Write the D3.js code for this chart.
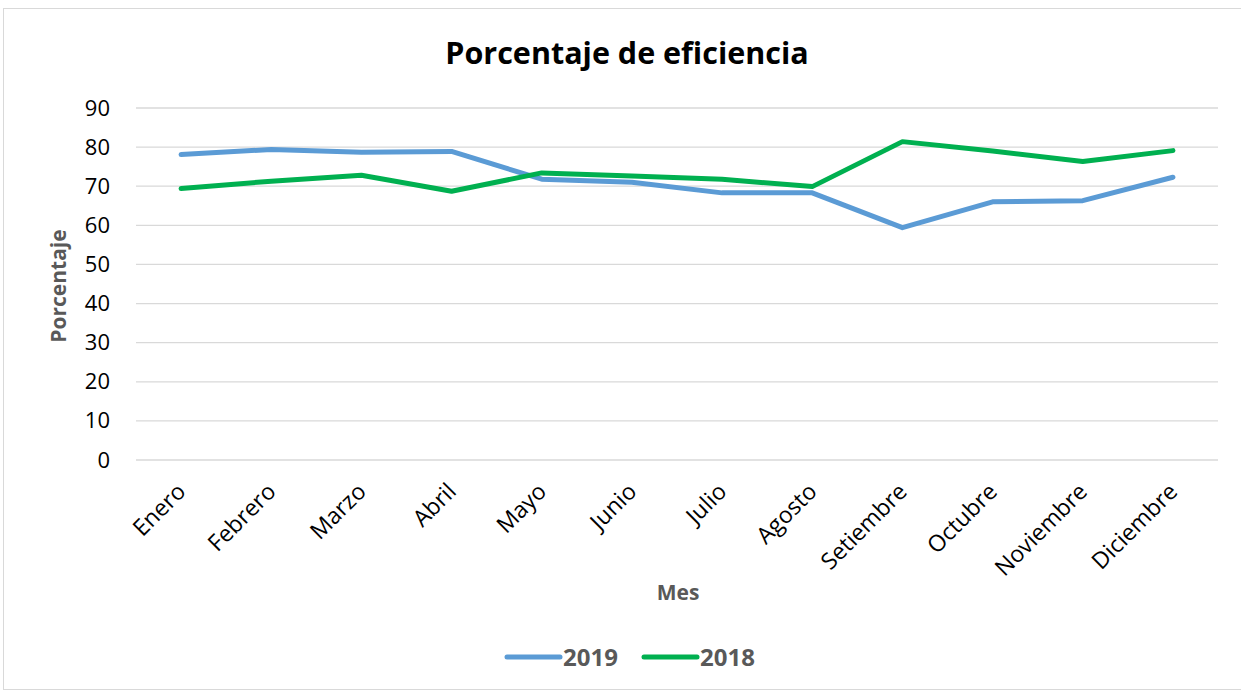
<!DOCTYPE html>
<html>
<head>
<meta charset="utf-8">
<script src="https://cdn.jsdelivr.net/npm/d3@7"></script>
<style>
  body { margin: 0; background: #fff; }
  text { font-family: "Open Sans", "DejaVu Sans", sans-serif; }
</style>
</head>
<body>
<svg id="chart" width="1241" height="694"></svg>
<script>
var months = ['Enero', 'Febrero', 'Marzo', 'Abril', 'Mayo', 'Junio', 'Julio',
              'Agosto', 'Setiembre', 'Octubre', 'Noviembre', 'Diciembre'];
var values2019 = [78.1, 79.4, 78.7, 78.9, 71.8, 71.0, 68.3, 68.3, 59.4, 66.0, 66.3, 72.3];
var values2018 = [69.4, 71.3, 72.8, 68.7, 73.4, 72.6, 71.8, 69.9, 81.4, 79.0, 76.3, 79.1];
var yTicks = [0, 10, 20, 30, 40, 50, 60, 70, 80, 90];

var series = [
    {name: '2019', values: values2019, color: '#5B9BD5'},
    {name: '2018', values: values2018, color: '#00B050'}
];

var svg = d3.select('#chart');

// outer frame like the spreadsheet chart area
svg.append('rect')
    .attr('x', 3.5).attr('y', 8.5)
    .attr('width', 1245).attr('height', 681)
    .attr('fill', '#fff')
    .attr('stroke', '#D9D9D9');

// plot area (note: "top" is taken by window.top, so prefix everything)
var plotLeft = 136, plotRight = 1218, plotTop = 108, plotBottom = 460;

var x = d3.scaleBand().domain(months).range([plotLeft, plotRight]);
var y = d3.scaleLinear().domain([0, 90]).range([plotBottom, plotTop]);

// gridlines
svg.append('g')
    .selectAll('line')
    .data(yTicks)
    .join('line')
    .attr('x1', plotLeft).attr('x2', plotRight)
    .attr('y1', function(d){ return y(d); })
    .attr('y2', function(d){ return y(d); })
    .attr('stroke', '#D9D9D9')
    .attr('stroke-width', 1.3);

// y axis labels
var yAxis = svg.append('g')
    .attr('transform', 'translate(' + plotLeft + ',0)')
    .call(d3.axisLeft(y).tickValues(yTicks).tickSize(0).tickPadding(26));
yAxis.select('.domain').remove();
yAxis.selectAll('text')
    .attr('font-size', 22)
    .attr('fill', '#000')
    .style('font-family', '"Open Sans", sans-serif');

// x axis labels, rotated
var xAxis = svg.append('g')
    .attr('transform', 'translate(0,' + plotBottom + ')')
    .call(d3.axisBottom(x).tickSize(0).tickPadding(0));
xAxis.select('.domain').remove();
xAxis.selectAll('text')
    .attr('font-size', 23)
    .attr('fill', '#000')
    .style('font-family', '"Open Sans", sans-serif')
    .attr('text-anchor', 'end')
    .attr('dy', 0)
    .attr('y', 0)
    .attr('transform', 'translate(6,33) rotate(-45)');

// lines
var line = d3.line()
    .x(function(d, i){ return x(months[i]) + x.bandwidth() / 2; })
    .y(function(d){ return y(d); });

svg.append('g')
    .selectAll('path')
    .data(series)
    .join('path')
    .attr('d', function(s){ return line(s.values); })
    .attr('fill', 'none')
    .attr('stroke', function(s){ return s.color; })
    .attr('stroke-width', 5)
    .attr('stroke-linejoin', 'round')
    .attr('stroke-linecap', 'round');

// title
svg.append('text')
    .attr('x', 627).attr('y', 64)
    .attr('text-anchor', 'middle')
    .attr('font-size', 30.5)
    .attr('font-weight', 'bold')
    .attr('fill', '#000')
    .text('Porcentaje de eficiencia');

// axis titles
svg.append('text')
    .attr('transform', 'translate(66,286) rotate(-90)')
    .attr('text-anchor', 'middle')
    .attr('font-size', 21)
    .attr('font-weight', 'bold')
    .attr('fill', '#595959')
    .text('Porcentaje');

svg.append('text')
    .attr('x', 678).attr('y', 600)
    .attr('text-anchor', 'middle')
    .attr('font-size', 21)
    .attr('font-weight', 'bold')
    .attr('fill', '#595959')
    .text('Mes');

// legend
var legend = svg.append('g')
    .selectAll('g')
    .data(series)
    .join('g')
    .attr('transform', function(s, i){ return 'translate(' + (507 + i * 137) + ',657)'; });
legend.append('line')
    .attr('x1', 0).attr('x2', 53)
    .attr('stroke', function(s){ return s.color; })
    .attr('stroke-width', 5)
    .attr('stroke-linecap', 'round');
legend.append('text')
    .attr('x', 56).attr('y', 9)
    .attr('font-size', 24)
    .attr('font-weight', 'bold')
    .attr('fill', '#595959')
    .text(function(s){ return s.name; });
</script>
</body>
</html>
